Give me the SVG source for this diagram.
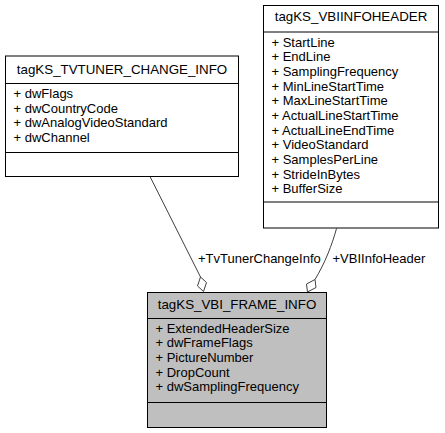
<svg xmlns="http://www.w3.org/2000/svg" width="445" height="433" viewBox="0 0 445 433">
<style>
.box{fill:#ffffff;stroke:#000000;stroke-width:1}
.hl{fill:#bfbfbf;stroke:#000000;stroke-width:1}
.sep{stroke:#000000;stroke-width:1}
.t{font-family:"Liberation Sans",Arial,sans-serif;font-size:13.33px;fill:#000000}
.title{text-anchor:middle}
.m{font-size:13px}
.edge{fill:none;stroke:#404040;stroke-width:1}
.dia{fill:#ffffff;stroke:#404040;stroke-width:1}
</style>
<rect width="445" height="433" fill="#ffffff"/>
<g id="edges">
<path class="edge" d="M150,176.5 L200.5,277"/>
<polygon class="dia" points="200.5,277 206.5,282.5 203.5,291.5 197.5,286"/>
<text class="t m" x="198" y="263">+TvTunerChangeInfo</text>
<path class="edge" d="M336.5,228.5 C332,245 325,263 315,279.5"/>
<polygon class="dia" points="315,279.5 316,287.5 307.5,292 306.5,284"/>
<text class="t m" x="332.5" y="263">+VBIInfoHeader</text>
</g>
<g id="tagKS_VBI_FRAME_INFO">
<rect class="hl" x="147.5" y="292.5" width="179" height="135"/>
<line class="sep" x1="147.5" y1="318.5" x2="326.5" y2="318.5"/>
<line class="sep" x1="147.5" y1="402.5" x2="326.5" y2="402.5"/>
<text class="t title" x="237" y="309">tagKS_VBI_FRAME_INFO</text>
<text class="t m" x="155.5" y="332.7">+ ExtendedHeaderSize</text>
<text class="t m" x="155.5" y="347.4">+ dwFrameFlags</text>
<text class="t m" x="155.5" y="362">+ PictureNumber</text>
<text class="t m" x="155.5" y="376.7">+ DropCount</text>
<text class="t m" x="155.5" y="391.4">+ dwSamplingFrequency</text>
</g>
<g id="tagKS_TVTUNER_CHANGE_INFO">
<rect class="box" x="5.5" y="56" width="233" height="120.5"/>
<line class="sep" x1="5.5" y1="83.5" x2="238.5" y2="83.5"/>
<line class="sep" x1="5.5" y1="152.5" x2="238.5" y2="152.5"/>
<text class="t title" x="122" y="73.5">tagKS_TVTUNER_CHANGE_INFO</text>
<text class="t m" x="13.5" y="98">+ dwFlags</text>
<text class="t m" x="13.5" y="112.6">+ dwCountryCode</text>
<text class="t m" x="13.5" y="127.2">+ dwAnalogVideoStandard</text>
<text class="t m" x="13.5" y="141.8">+ dwChannel</text>
</g>
<g id="tagKS_VBIINFOHEADER">
<rect class="box" x="263.5" y="5.5" width="175" height="222.5"/>
<line class="sep" x1="263.5" y1="32" x2="438.5" y2="32"/>
<line class="sep" x1="263.5" y1="202" x2="438.5" y2="202"/>
<text class="t title" x="351" y="21">tagKS_VBIINFOHEADER</text>
<text class="t m" x="271.5" y="46.7">+ StartLine</text>
<text class="t m" x="271.5" y="61.4">+ EndLine</text>
<text class="t m" x="271.5" y="76">+ SamplingFrequency</text>
<text class="t m" x="271.5" y="90.7">+ MinLineStartTime</text>
<text class="t m" x="271.5" y="105.3">+ MaxLineStartTime</text>
<text class="t m" x="271.5" y="120">+ ActualLineStartTime</text>
<text class="t m" x="271.5" y="134.7">+ ActualLineEndTime</text>
<text class="t m" x="271.5" y="149.3">+ VideoStandard</text>
<text class="t m" x="271.5" y="164">+ SamplesPerLine</text>
<text class="t m" x="271.5" y="178.6">+ StrideInBytes</text>
<text class="t m" x="271.5" y="193.3">+ BufferSize</text>
</g>
</svg>
